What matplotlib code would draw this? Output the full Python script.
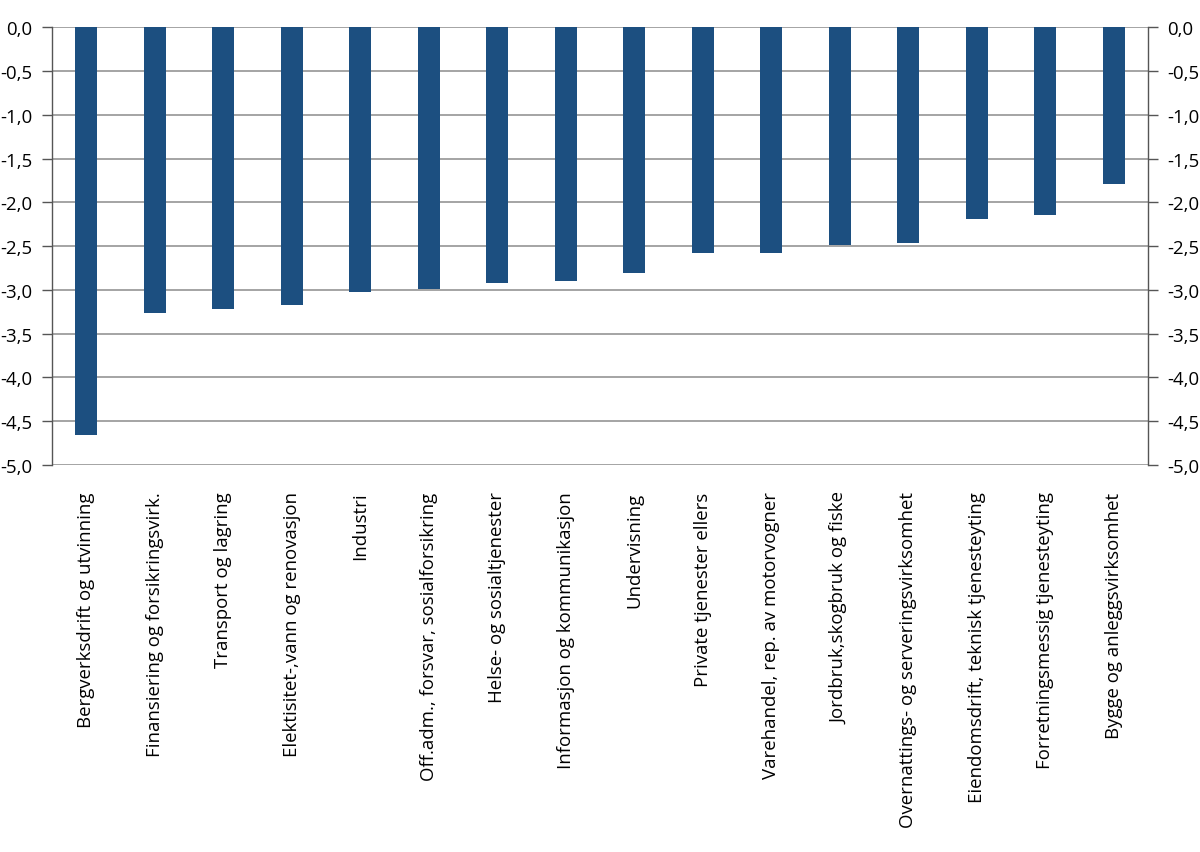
import numpy as np
from matplotlib import pyplot as plt
from matplotlib.ticker import FuncFormatter

# Næringer og endring (prosent)
naeringer = [
    'Bergverksdrift og utvinning',
    'Finansiering og forsikringsvirk.',
    'Transport og lagring',
    'Elektisitet-,vann og renovasjon',
    'Industri',
    'Off.adm., forsvar, sosialforsikring',
    'Helse- og sosialtjenester',
    'Informasjon og kommunikasjon',
    'Undervisning',
    'Private tjenester ellers',
    'Varehandel, rep. av motorvogner',
    'Jordbruk,skogbruk og fiske',
    'Overnattings- og serveringsvirksomhet',
    'Eiendomsdrift, teknisk tjenesteyting',
    'Forretningsmessig tjenesteyting',
    'Bygge og anleggsvirksomhet',
]
verdier = [-4.66, -3.26, -3.22, -3.17, -3.03, -2.99, -2.92, -2.90,
           -2.81, -2.58, -2.58, -2.49, -2.46, -2.19, -2.15, -1.79]
y_ticks = [0.0, -0.5, -1.0, -1.5, -2.0, -2.5, -3.0, -3.5, -4.0, -4.5, -5.0]

plt.rcParams['font.family'] = ['Open Sans', 'DejaVu Sans']

fig = plt.figure(figsize=(12, 8.53), dpi=100)
ax = fig.add_axes([0.0433, 0.4537, 0.9134, 0.5133])

x = np.arange(len(naeringer))
ax.bar(x, verdier, width=0.32, color='#1c4f80', zorder=3)

ax.set_xlim(-0.5, len(naeringer) - 0.5)
ax.set_ylim(-5.0, 0.0)
ax.set_yticks(y_ticks)
ax.yaxis.set_major_formatter(FuncFormatter(lambda v, p: ('%.1f' % v).replace('.', ',')))
ax.grid(axis='y', color='#8c8c8c', linewidth=1.1, zorder=0)

ax.set_xticks(x)
ax.set_xticklabels(naeringer, rotation=90, va='top', ha='center')
ax.tick_params(axis='x', length=0, pad=19, labelsize=13.4, colors='black')
ax.tick_params(axis='y', left=True, right=True, labelleft=True, labelright=True,
               length=7, width=1.0, color='#555555', pad=7, labelsize=13.4)

for side in ['top', 'bottom']:
    ax.spines[side].set_visible(False)
for side in ['left', 'right']:
    ax.spines[side].set_color('#555555')
    ax.spines[side].set_linewidth(1.0)

fig.savefig('out.png', dpi=100)
